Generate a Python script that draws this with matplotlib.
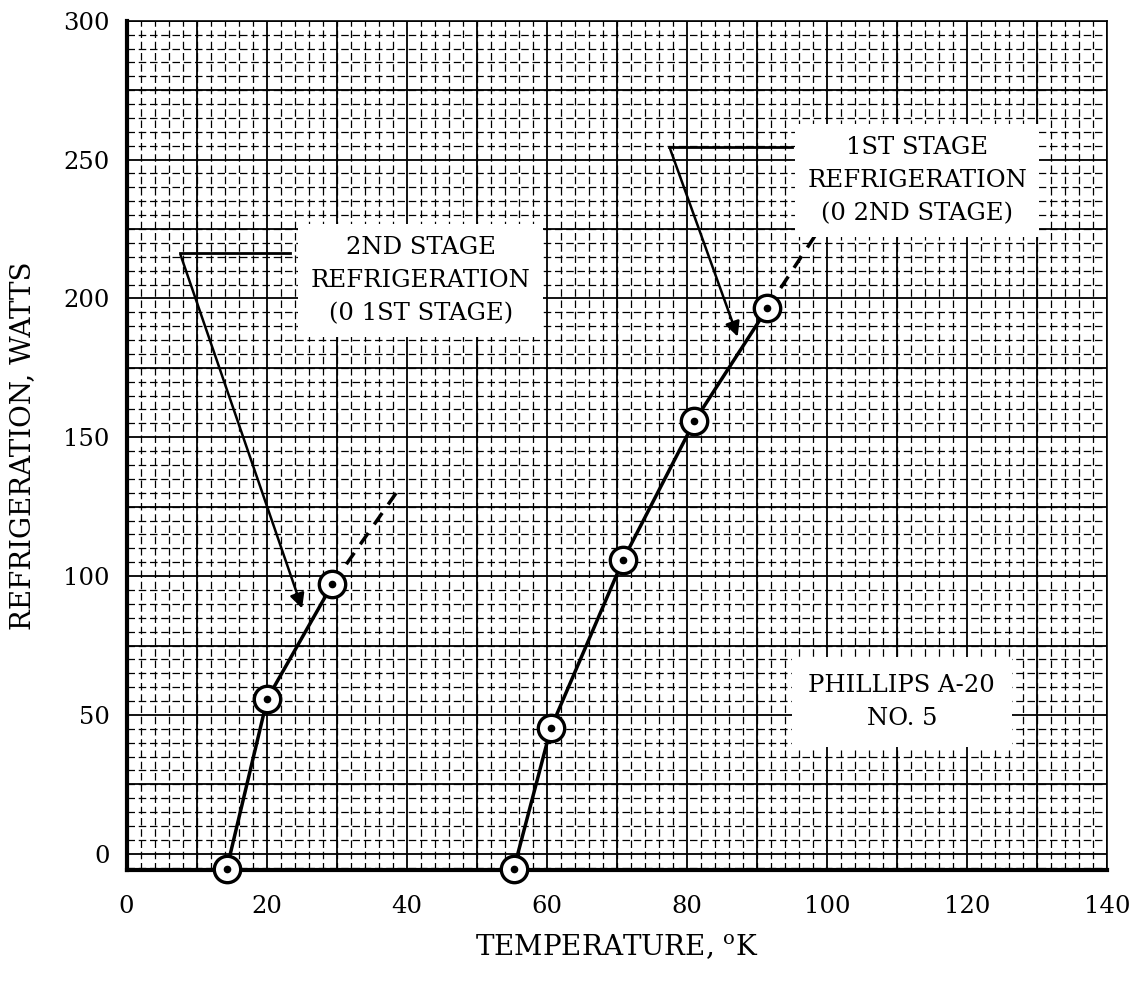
import matplotlib
matplotlib.use("Agg")
import matplotlib.pyplot as plt
from matplotlib.ticker import MultipleLocator

plt.rcParams['font.family'] = ['DejaVu Serif']
plt.rcParams['mathtext.fontset'] = 'dejavuserif'

# 2nd stage refrigeration (0 1st stage)
temp_2nd = [14.3, 20.1, 29.4]
watts_2nd = [-5.5, 55.8, 97.1]
temp_2nd_ext = [29.4, 38.8]
watts_2nd_ext = [97.1, 131.0]

# 1st stage refrigeration (0 2nd stage)
temp_1st = [55.3, 60.6, 70.9, 81.1, 91.5]
watts_1st = [-5.5, 45.3, 105.8, 155.8, 196.4]
temp_1st_ext = [91.5, 98.9]
watts_1st_ext = [196.4, 224.8]

xticks = [0, 20, 40, 60, 80, 100, 120, 140]
yticks = [0, 50, 100, 150, 200, 250, 300]

fig = plt.figure(figsize=(11.4, 9.88), dpi=100)
ax = fig.add_axes([0.111, 0.119, 0.860, 0.860])

ax.set_xlim(0, 140)
ax.set_ylim(-6, 300)
ax.set_xticks(xticks)
ax.set_yticks(yticks)
ax.xaxis.set_minor_locator(MultipleLocator(2))
ax.yaxis.set_minor_locator(MultipleLocator(5))
ax.tick_params(which='both', length=0, labelsize=17.5)
ax.tick_params(axis='x', pad=18)
ax.tick_params(axis='y', pad=12)

# graph paper grid
for v in range(0, 141, 10):
    ax.axvline(v, color='black', lw=1.3, zorder=1)
for v in range(0, 301, 25):
    ax.axhline(v, color='black', lw=1.3, zorder=1)
ax.grid(which='minor', color='black', lw=0.9, ls=(0, (6, 3)), zorder=1)

for s in ['left', 'bottom']:
    ax.spines[s].set_linewidth(3)
for s in ['top', 'right']:
    ax.spines[s].set_linewidth(1.2)

# curves
ax.plot(temp_2nd, watts_2nd, color='black', lw=2.5, zorder=3, clip_on=False)
ax.plot(temp_2nd_ext, watts_2nd_ext, color='black', lw=2.5, ls=(0, (4, 3)), zorder=3)
ax.plot(temp_1st, watts_1st, color='black', lw=2.5, zorder=3, clip_on=False)
ax.plot(temp_1st_ext, watts_1st_ext, color='black', lw=2.5, ls=(0, (4, 3)), zorder=3)

for t, w in [(temp_2nd, watts_2nd), (temp_1st, watts_1st)]:
    ax.plot(t, w, ls='none', marker='o', ms=19, mfc='white', mec='black', mew=2.4,
            zorder=4, clip_on=False)
    ax.plot(t, w, ls='none', marker='o', ms=4.5, color='black', zorder=5, clip_on=False)

box = dict(facecolor='white', edgecolor='none', pad=9)

ax.text(42, 206.5, '2ND STAGE\nREFRIGERATION\n(0 1ST STAGE)', ha='center', va='center',
        fontsize=17.5, linespacing=1.55, bbox=box, zorder=6)
ax.text(112.9, 242.5, '1ST STAGE\nREFRIGERATION\n(0 2ND STAGE)', ha='center', va='center',
        fontsize=17.5, linespacing=1.55, bbox=box, zorder=6)
ax.text(110.7, 54.7, 'PHILLIPS A-20\nNO. 5', ha='center', va='center',
        fontsize=17.5, linespacing=1.55, bbox=dict(facecolor='white', edgecolor='none', pad=12),
        zorder=6)

# leader lines with arrows
arrow = dict(arrowstyle='-|>', color='black', lw=1.8, mutation_scale=22)
ax.plot([7.6, 23.4], [216.5, 216.5], color='black', lw=2, zorder=5)
ax.annotate('', xy=(25.2, 87.4), xytext=(7.6, 216.5), arrowprops=arrow, zorder=5)
ax.plot([77.5, 95.0], [254.7, 254.7], color='black', lw=2, zorder=5)
ax.annotate('', xy=(87.4, 185.3), xytext=(77.5, 254.7), arrowprops=arrow, zorder=5)

ax.set_xlabel(r'TEMPERATURE, $^{\mathrm{o}}$K', fontsize=20, labelpad=10)
ax.set_ylabel('REFRIGERATION, WATTS', fontsize=20, labelpad=20)

fig.savefig('out.png', dpi=100, facecolor='white')
